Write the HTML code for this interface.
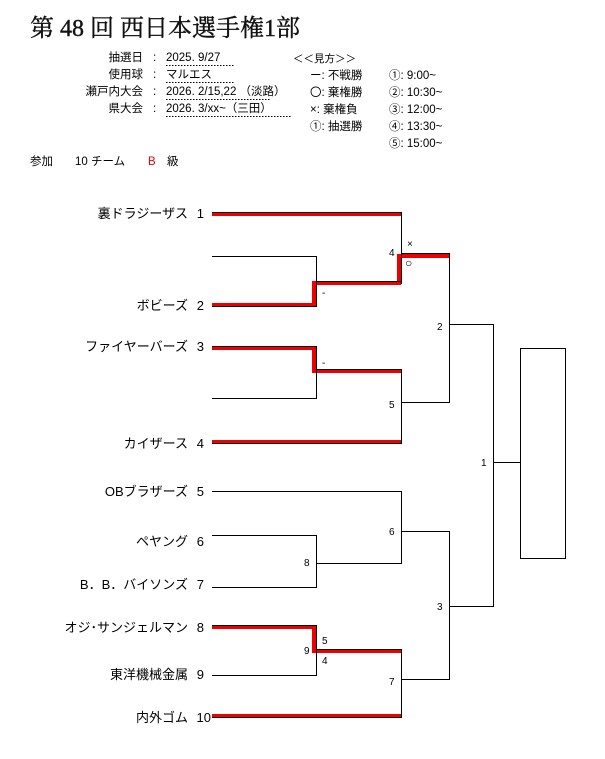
<!DOCTYPE html>
<html><head><meta charset="utf-8"><style>
body{margin:0;background:#fff}
svg{display:block;font-family:"Liberation Sans","Noto Sans CJK JP",sans-serif}
</style></head><body>
<svg width="605" height="759" viewBox="0 0 605 759" xmlns="http://www.w3.org/2000/svg">
<text x="30" y="36" font-family="Liberation Serif,'Noto Serif CJK SC',serif" font-size="24" fill="#111" stroke="#111" stroke-width="0.4" textLength="270">第 48 回 西日本選手権1部</text>
<g font-size="11.5" fill="#000">
<text x="143" y="61" text-anchor="end">抽選日</text>
<text x="143" y="78" text-anchor="end">使用球</text>
<text x="143" y="95" text-anchor="end">瀬戸内大会</text>
<text x="143" y="112" text-anchor="end">県大会</text>
<text x="153" y="61">:</text><text x="153" y="78">:</text><text x="153" y="95">:</text><text x="153" y="112">:</text>
<text x="166" y="61">2025. 9/27</text>
<text x="166" y="78">マルエス</text>
<text x="166" y="95">2026. 2/15,22 （淡路）</text>
<text x="166" y="112">2026. 3/xx~（三田）</text>
<text x="293" y="62" font-size="10.5">＜＜見方＞＞</text>
<text x="310" y="79">ー: 不戦勝</text>
<text x="310" y="96">〇: 棄権勝</text>
<text x="310" y="113">×: 棄権負</text>
<text x="310" y="130">①: 抽選勝</text>
<text x="389" y="79">①:  9:00~</text>
<text x="389" y="96">②: 10:30~</text>
<text x="389" y="113">③: 12:00~</text>
<text x="389" y="130">④: 13:30~</text>
<text x="389" y="147">⑤: 15:00~</text>
<text x="30" y="165">参加</text>
<text x="75" y="165">10 チーム</text>
<text x="148" y="165" fill="#e00">B</text>
<text x="167" y="165">級</text>
</g>
<g stroke="#000" stroke-dasharray="1.5,1.5" stroke-width="1">
<line x1="166" y1="65.5" x2="234" y2="65.5"/><line x1="166" y1="82.5" x2="234" y2="82.5"/>
<line x1="166" y1="99.5" x2="270" y2="99.5"/><line x1="166" y1="116.5" x2="291" y2="116.5"/>
</g>
<g stroke="#e00" stroke-width="4" fill="none">
<line x1="212" y1="214" x2="401" y2="214"/>
<polyline points="212,305 314,305 314,283 399,283 399,256 449,256"/>
<polyline points="212,348 314,348 314,371 401,371"/>
<line x1="212" y1="442" x2="401" y2="442"/>
<polyline points="212,627 314,627 314,651 401,651"/>
<line x1="212" y1="716" x2="401" y2="716"/>
</g>
<g stroke="#000" stroke-width="1" fill="none">
<polyline points="212,212.5 401.5,212.5 401.5,284"/>
<polyline points="212,256.5 316.5,256.5 316.5,306.5 212,306.5"/>
<line x1="316" y1="281.5" x2="401" y2="281.5"/>
<polyline points="401,253.5 449.5,253.5 449.5,402.5 401,402.5"/>
<polyline points="212,346.5 316.5,346.5 316.5,398.5 212,398.5"/>
<polyline points="316,369.5 401.5,369.5 401.5,443.5 212,443.5"/>
<polyline points="449,324.5 493.5,324.5 493.5,606.5 449,606.5"/>
<line x1="493" y1="462.5" x2="520" y2="462.5"/>
<rect x="520.5" y="348.5" width="45" height="210"/>
<polyline points="212,491.5 401.5,491.5 401.5,563.5 316,563.5"/>
<polyline points="212,535.5 316.5,535.5 316.5,587.5 212,587.5"/>
<polyline points="401,531.5 449.5,531.5 449.5,679.5 401,679.5"/>
<polyline points="212,625.5 316.5,625.5 316.5,675.5 212,675.5"/>
<polyline points="316,649.5 401.5,649.5 401.5,717.5 212,717.5"/>
</g>
<g font-size="13" fill="#000" text-anchor="end">
<text x="188" y="218">裏ドラジーザス</text><text x="204" y="218">1</text>
<text x="188" y="310">ボビーズ</text><text x="204" y="310">2</text>
<text x="188" y="351">ファイヤーバーズ</text><text x="204" y="351">3</text>
<text x="188" y="448">カイザース</text><text x="204" y="448">4</text>
<text x="188" y="496">OBブラザーズ</text><text x="204" y="496">5</text>
<text x="188" y="546">ペヤング</text><text x="204" y="546">6</text>
<text x="188" y="589">B．B．バイソンズ</text><text x="204" y="589">7</text>
<text x="188" y="632">オジ･サンジェルマン</text><text x="204" y="632">8</text>
<text x="188" y="679">東洋機械金属</text><text x="204" y="679">9</text>
<text x="188" y="722">内外ゴム</text><text x="211" y="722">10</text>
</g>
<g font-size="10" fill="#000">
<text x="389" y="256">4</text>
<text x="407" y="247">×</text>
<text x="405" y="267" font-size="12">○</text>
<text x="322" y="296">-</text>
<text x="322" y="366">-</text>
<text x="437" y="330">2</text>
<text x="389" y="408">5</text>
<text x="481" y="466">1</text>
<text x="389" y="535">6</text>
<text x="304" y="566">8</text>
<text x="437" y="610">3</text>
<text x="304" y="654">9</text>
<text x="322" y="644">5</text>
<text x="322" y="664">4</text>
<text x="389" y="685">7</text>
</g>
</svg>
</body></html>
